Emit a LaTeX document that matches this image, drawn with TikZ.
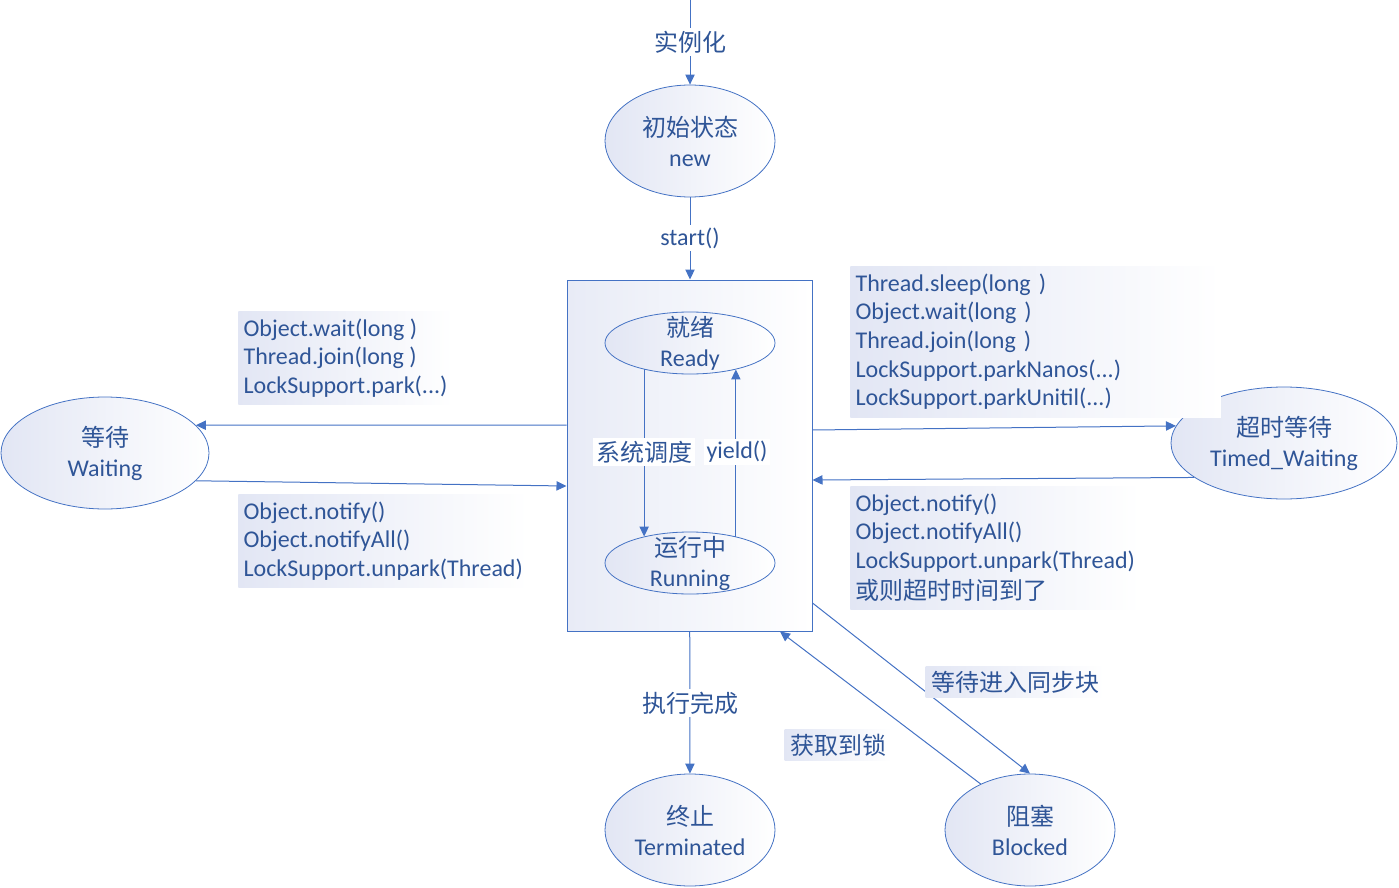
\documentclass[tikz,border=0pt]{standalone}
\usepackage{fontspec}
\setmainfont{Carlito}
\newfontfamily\cjk{Noto Sans CJK SC}
\usetikzlibrary{shapes.geometric,arrows.meta}
\definecolor{txtblue}{HTML}{2F5597}
\definecolor{lineblue}{HTML}{4472C4}
\definecolor{lav}{HTML}{E2E6F4}

\begin{document}
\begin{tikzpicture}[x=0.75pt, y=-0.75pt, font=\fontsize{18}{21.5}\selectfont, text=txtblue,
	line/.style={draw=lineblue, line width=0.75pt},
	arr/.style={line, -{Triangle[length=7.5pt, width=7pt]}},
	state/.style={ellipse, draw=lineblue, line width=0.6pt, left color=lav, right color=white, inner sep=0pt, align=center, minimum width=127.5pt, minimum height=84pt, font=\fontsize{18}{22.5}\selectfont},
	flat/.style={inner ysep=-5pt, minimum height=46.5pt},
	tag/.style={fill=white, inner sep=2pt},
	note/.style={left color=lav, right color=white, align=left, anchor=north west, inner xsep=4pt, inner ysep=5.5pt}]
	\useasboundingbox (0,0) rectangle (1399,888);
	\node[line, left color=lav!80, right color=white, minimum width=183.75pt, minimum height=263.25pt, inner sep=0pt] (box) at (689.5,455.5) {};
	\node[state] (new) at (690,141) {{\cjk 初始状态}\\new};
	\node[state, flat] (ready) at (690,343) {{\cjk 就绪}\\Ready};
	\node[state, flat] (running) at (690,563) {{\cjk 运行中}\\Running};
	\node[state, minimum width=156pt] (waiting) at (105,453) {{\cjk 等待}\\Waiting};
	\node[state, minimum width=169.5pt] (timed) at (1284,443) {{\cjk 超时等待}\\Timed\_Waiting};
	\node[state] (term) at (690,830) {{\cjk 终止}\\Terminated};
	\node[state] (blocked) at (1030,830) {{\cjk 阻塞}\\Blocked};
	\coordinate (top) at (690,0);
	\draw[arr] (top) -- (new);
	\draw[arr] (new.south) -- (new.south |- box.north);
	\draw[arr] (ready.-150) -- (running.150);
	\draw[arr] (running.30) -- (ready.-30);
	\draw[arr] (box.west |- 0,425) -- (waiting.17);
	\draw[arr] (waiting.-17) -- (box.west |- 0,486);
	\draw[arr] (box.east |- 0,430) -- (timed.171);
	\draw[arr] (timed.-159) -- (box.east |- 0,480);
	\draw[arr] (box) -- (term);
	\draw[arr] (box.east |- 0,603) -- (blocked.north);
	\draw[arr] (blocked.137) -- (box.south -| 780,0);
	\node[tag] (linst) at (690,42) {\cjk 实例化};
	\node[tag] (lstart) at (690,238) {start()};
	\node[tag] (lsched) at (644,452) {\cjk 系统调度};
	\node[tag] (lyield) at (737,452) {yield()};
	\node[tag] (ldone) at (690,703) {\cjk 执行完成};
	\node[note] (nwait) at (238,311) {Object.wait(long )\\Thread.join(long )\\LockSupport.park(...)};
	\node[note] (nnotify) at (238,494) {Object.notify()\\Object.notifyAll()\\LockSupport.unpark(Thread)};
	\node[note, text width=270pt] (nsleep) at (850,266) {Thread.sleep(long )\\Object.wait(long )\\Thread.join(long )\\LockSupport.parkNanos(...)\\LockSupport.parkUnitil(...)};
	\node[note] (nwake) at (850,486) {Object.notify()\\Object.notifyAll()\\LockSupport.unpark(Thread)\\[2pt]{\cjk 或则超时时间到了}};
	\node[note, anchor=center, inner ysep=3pt] (lsync) at (1015,682) {\cjk 等待进入同步块};
	\node[note, anchor=center, inner ysep=3pt] (llock) at (838,745) {\cjk 获取到锁};
\end{tikzpicture}
\end{document}
